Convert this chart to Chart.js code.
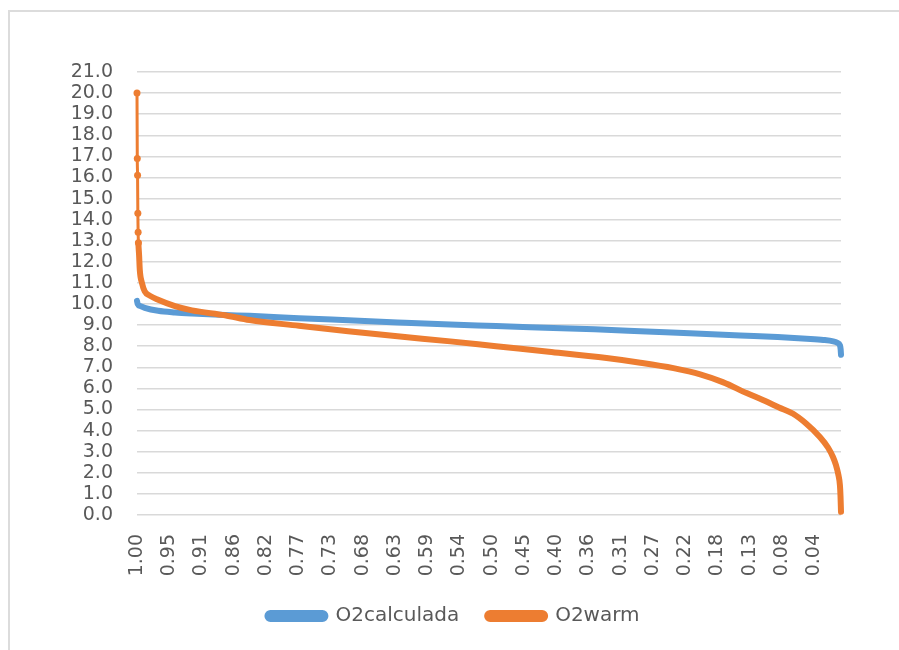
<!DOCTYPE html>
<html>
<head>
<meta charset="utf-8">
<title>O2 curves</title>
<script src="https://cdn.jsdelivr.net/npm/chart.js@4.4.1/dist/chart.umd.min.js"></script>
<style>
  html, body { margin: 0; padding: 0; background: #fff; overflow: hidden; }
  #frame { position: absolute; left: 8px; top: 10px; width: 900px; height: 660px;
           border-top: 2px solid #dcdcdc; border-left: 2px solid #dcdcdc; }
  #wrap { position: absolute; left: 0; top: 0; width: 899px; height: 650px; }
</style>
</head>
<body>
<div id="frame"></div>
<div id="wrap"><canvas id="o2Chart"></canvas></div>
<script>
// tick labels on the category axis (exceedance probability)
const tickLabels = ["1.00", "0.95", "0.91", "0.86", "0.82", "0.77", "0.73", "0.68", "0.63", "0.59", "0.54",
  "0.50", "0.45", "0.40", "0.36", "0.31", "0.27", "0.22", "0.18", "0.13", "0.08", "0.04"];
const tickStep = 0.0458;

// O2calculada
const probCalculada = [1.000, 0.999, 0.995, 0.989, 0.970, 0.946, 0.922, 0.875, 0.840, 0.770, 0.700,
  0.630, 0.555, 0.490, 0.420, 0.350, 0.285, 0.215, 0.143, 0.090, 0.049, 0.025, 0.011, 0.005,
  0.0015, 0.0005, 0.000];
const o2Calculada = [10.15, 10.0, 9.9, 9.82, 9.68, 9.60, 9.55, 9.48, 9.44, 9.33, 9.23,
  9.13, 9.03, 8.96, 8.88, 8.80, 8.71, 8.61, 8.51, 8.44, 8.36, 8.30, 8.23, 8.16,
  8.05, 7.85, 7.6];

// O2warm
const probWarm = [1.000, 0.9996, 0.9992, 0.9988, 0.9984, 0.998, 0.997, 0.996, 0.993, 0.989, 0.982,
  0.970, 0.946, 0.922, 0.875, 0.840, 0.770, 0.700, 0.630, 0.555, 0.490, 0.415, 0.333, 0.285,
  0.238, 0.200, 0.168, 0.134, 0.111, 0.088, 0.068, 0.050, 0.030, 0.0185, 0.0114, 0.007, 0.004,
  0.0015, 0.0007, 0.000];
const o2Warm = [20.0, 16.9, 16.1, 14.3, 13.4, 12.9, 12.3, 11.6, 11.0, 10.6, 10.4,
  10.2, 9.9, 9.7, 9.47, 9.24, 8.97, 8.71, 8.47, 8.23, 8.0, 7.74, 7.44, 7.22,
  6.96, 6.67, 6.3, 5.78, 5.45, 5.1, 4.8, 4.35, 3.7, 3.2, 2.75, 2.35, 1.95,
  1.4, 0.9, 0.15];

const blue = "#5B9BD5";
const orange = "#ED7D31";
const textGrey = "#595959";

const ctx = document.getElementById("o2Chart").getContext("2d");

new Chart(ctx, {
  type: "line",
  data: {
    datasets: [
      {
        label: "O2calculada",
        data: probCalculada.map((p, i) => ({ x: p, y: o2Calculada[i] })),
        borderColor: blue,
        backgroundColor: blue,
        borderWidth: 6,
        pointRadius: 0,
        borderJoinStyle: "round",
        borderCapStyle: "round",
        cubicInterpolationMode: "monotone",
        clip: false
      },
      {
        label: "O2warm",
        data: probWarm.map((p, i) => ({ x: p, y: o2Warm[i] })),
        borderColor: orange,
        backgroundColor: orange,
        borderWidth: 6,
        pointRadius: (c) => (c.dataIndex <= 5 ? 3.5 : 0),
        pointBorderWidth: 0,
        pointBackgroundColor: orange,
        borderJoinStyle: "round",
        borderCapStyle: "round",
        cubicInterpolationMode: "monotone",
        clip: false,
        order: -1,
        segment: {
          borderWidth: (c) => (c.p1DataIndex <= 5 ? 3 : 6)
        }
      }
    ]
  },
  options: {
    responsive: true,
    maintainAspectRatio: false,
    animation: false,
    layout: { padding: { left: 66, right: 58, top: 72, bottom: 14 } },
    scales: {
      x: {
        type: "linear",
        reverse: true,
        min: 0,
        max: 1,
        afterBuildTicks: (axis) => {
          axis.ticks = tickLabels.map((t, i) => ({ value: 1 - i * tickStep }));
        },
        afterFit: (axis) => { axis.height = 63; },
        grid: { display: false, drawTicks: false },
        border: { display: false },
        ticks: {
          autoSkip: false,
          minRotation: 90,
          maxRotation: 90,
          padding: 19,
          color: textGrey,
          font: { family: "DejaVu Sans", size: 19 },
          callback: (v, i) => tickLabels[i]
        }
      },
      y: {
        min: 0,
        max: 21,
        afterFit: (axis) => { axis.width = 71; },
        grid: { color: "#d9d9d9", lineWidth: 1.5, drawTicks: false },
        border: { display: false },
        ticks: {
          stepSize: 1,
          autoSkip: false,
          padding: 24,
          color: textGrey,
          font: { family: "DejaVu Sans", size: 19, lineHeight: 1 },
          callback: (v) => v.toFixed(1)
        }
      }
    },
    plugins: {
      tooltip: { enabled: false },
      legend: {
        position: "bottom",
        labels: {
          boxWidth: 58,
          boxHeight: 6,
          padding: 28,
          color: textGrey,
          useBorderRadius: true,
          borderRadius: 3,
          font: { family: "DejaVu Sans", size: 20 },
          sort: (a, b) => a.datasetIndex - b.datasetIndex
        }
      }
    }
  }
});
</script>
</body>
</html>
